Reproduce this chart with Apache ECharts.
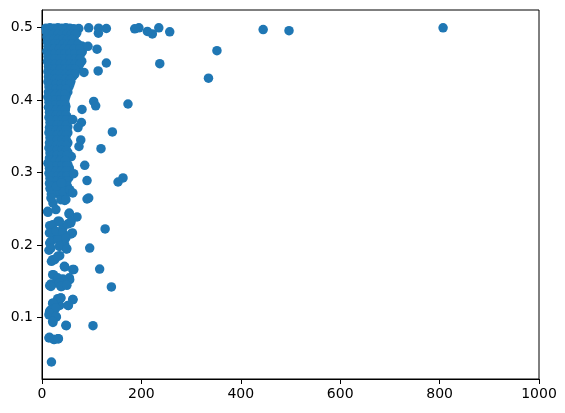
<!DOCTYPE html>
<html><head><meta charset="utf-8">
<script src="https://cdn.jsdelivr.net/npm/echarts@6/dist/echarts.min.js"></script>
<style>html,body{margin:0;padding:0;background:#fff}#c{width:565px;height:413px}</style>
</head><body><div id="c"></div>
<script>
const xTicks = [0, 200, 400, 600, 800, 1000];
const yTicks = [0.1, 0.2, 0.3, 0.4, 0.5];

const densePoints = [
[8,0.499],[16,0.4995],[24,0.499],[32,0.4995],[40,0.499],[48,0.4995],[56,0.499],[64,0.498],[74,0.4985],
[9,0.494],[18,0.493],[27,0.494],[36,0.4935],[45,0.494],[54,0.493],[63,0.494],[70,0.4925],
[10,0.487],[19,0.488],[28,0.487],[37,0.4865],[46,0.487],[55,0.488],[64,0.486],
[11,0.48],[20,0.481],[29,0.48],[38,0.4795],[47,0.481],[56,0.48],[66,0.4805],
[12,0.474],[21,0.473],[30,0.4745],[40,0.474],[50,0.473],[60,0.474],[70,0.4735],[80,0.4745],
[10,0.467],[20,0.4665],[30,0.467],[40,0.468],[50,0.467],[60,0.466],[72,0.467],[81,0.4665],
[12,0.46],[22,0.4605],[32,0.46],[42,0.459],[52,0.4605],[62,0.46],[74,0.4595],
[11,0.453],[21,0.4525],[31,0.453],[41,0.454],[51,0.453],[61,0.4525],[70,0.453],[80,0.4535],
[13,0.446],[23,0.4465],[33,0.446],[43,0.4455],[53,0.446],[63,0.4465],[72,0.446],
[12,0.439],[22,0.4385],[32,0.439],[42,0.44],[52,0.439],[62,0.4385],[68,0.44],
[13,0.432],[23,0.4325],[33,0.432],[43,0.4315],[53,0.432],[62,0.4325],
[12,0.425],[22,0.4255],[32,0.425],[42,0.4245],[52,0.425],[58,0.4255],
[14,0.418],[24,0.4185],[34,0.418],[44,0.4175],[54,0.418],
[13,0.411],[23,0.4105],[33,0.411],[43,0.4115],[52,0.411],
[12,0.404],[22,0.4045],[32,0.404],[42,0.4035],[48,0.405],
[14,0.397],[24,0.3975],[34,0.397],[44,0.3965],
[13,0.39],[23,0.3905],[33,0.39],[43,0.3895],[48,0.391],
[15,0.383],[25,0.3835],[35,0.383],[45,0.3825],
[14,0.376],[24,0.3765],[34,0.376],[44,0.3755],[50,0.377],
[16,0.369],[26,0.3695],[36,0.369],[46,0.3685],
[15,0.362],[25,0.3625],[35,0.362],[45,0.3615],[52,0.363],
[14,0.355],[24,0.3555],[34,0.355],[44,0.3545],[52,0.355],
[16,0.348],[26,0.3485],[36,0.348],[46,0.3475],
[15,0.341],[25,0.3415],[35,0.341],[45,0.3405],[52,0.341],
[14,0.334],[24,0.3345],[34,0.334],[44,0.3335],
[16,0.327],[26,0.3275],[36,0.327],[46,0.3265],[52,0.328],
[15,0.32],[25,0.3205],[35,0.32],[45,0.3195],[59,0.322],
[12,0.313],[22,0.3135],[32,0.313],[42,0.3125],[52,0.311],
[15,0.306],[25,0.3065],[35,0.306],[45,0.3055],[55,0.306],
[14,0.299],[24,0.2995],[34,0.299],[44,0.2985],
[16,0.292],[26,0.2925],[36,0.292],[46,0.2915],[54,0.293],
[15,0.285],[25,0.2855],[35,0.285],[45,0.2845],
[16,0.278],[26,0.2785],[36,0.278],[46,0.2775],
[19,0.271],[29,0.2715],[39,0.271],[48,0.2705]
];

const denseFillPoints = [
[13,0.4965],[22,0.4965],[31,0.4965],[40,0.4965],[49,0.4965],[58,0.4965],[67,0.4965],
[14,0.4905],[23,0.4905],[32,0.4905],[41,0.4905],[50,0.4905],[59,0.4905],[67,0.4905],
[15,0.4835],[24,0.4835],[33,0.4835],[42,0.4835],[51,0.4835],[60,0.4835],
[16,0.477],[25,0.477],[34,0.477],[43,0.477],[52,0.477],[61,0.477],[72,0.477],
[15,0.4705],[25,0.4705],[35,0.4705],[45,0.4705],[55,0.4705],[65,0.4705],[76,0.4705],
[16,0.4635],[26,0.4635],[36,0.4635],[46,0.4635],[56,0.4635],[66,0.4635],[78,0.4635],
[16,0.4565],[26,0.4565],[36,0.4565],[46,0.4565],[56,0.4565],[66,0.4565],[76,0.4565],
[17,0.4495],[27,0.4495],[37,0.4495],[47,0.4495],[57,0.4495],[67,0.4495],[76,0.4495],
[17,0.4425],[27,0.4425],[37,0.4425],[47,0.4425],[57,0.4425],[66,0.4425],
[17,0.4355],[27,0.4355],[37,0.4355],[47,0.4355],[57,0.4355],[66,0.4355],
[17,0.4285],[27,0.4285],[37,0.4285],[47,0.4285],[57,0.4285],
[18,0.4215],[28,0.4215],[38,0.4215],[48,0.4215],[56,0.4215],
[18,0.4145],[28,0.4145],[38,0.4145],[48,0.4145],
[17,0.4075],[27,0.4075],[37,0.4075],[46,0.4075],
[18,0.4005],[28,0.4005],[38,0.4005],[46,0.4005],
[18,0.3935],[28,0.3935],[38,0.3935],[47,0.3935],
[19,0.3865],[29,0.3865],[39,0.3865],[47,0.3865],
[19,0.3795],[29,0.3795],[39,0.3795],[48,0.3795],
[20,0.3725],[30,0.3725],[40,0.3725],[49,0.3725],
[20,0.3655],[30,0.3655],[40,0.3655],[49,0.3655],
[19,0.3585],[29,0.3585],[39,0.3585],[48,0.3585],
[20,0.3515],[30,0.3515],[40,0.3515],[49,0.3515],
[20,0.3445],[30,0.3445],[40,0.3445],[49,0.3445],
[19,0.3375],[29,0.3375],[39,0.3375],[49,0.3375],
[20,0.3305],[30,0.3305],[40,0.3305],[49,0.3305],
[20,0.3235],[30,0.3235],[40,0.3235],[50,0.3235],
[17,0.3165],[27,0.3165],[37,0.3165],[47,0.3165],
[20,0.3095],[30,0.3095],[40,0.3095],[50,0.3095],
[19,0.3025],[29,0.3025],[39,0.3025],[49,0.3025],
[20,0.2955],[30,0.2955],[40,0.2955],[50,0.2955],
[20,0.2885],[30,0.2885],[40,0.2885],[50,0.2885],
[21,0.2815],[31,0.2815],[41,0.2815],[51,0.2815],
[22,0.2745],[32,0.2745],[42,0.2745]
];

const lowPoints = [
[62.4,0.125],[52.4,0.117],[64,0.1663],[45.7,0.170],[55.7,0.1525],[70.4,0.2389],[54.3,0.243],[49,0.1948],
[61.2,0.2168],[57.8,0.2306],[45.7,0.2617],[55.7,0.2765],[62,0.272],
[14,0.0722],[23.5,0.070],[32.2,0.071],[22,0.0936],[29,0.101],[15.5,0.109],[14,0.104],[22,0.120],
[32.2,0.125],[37.6,0.1273],[25.5,0.116],[35.6,0.117],
[15.5,0.1442],[23.5,0.159],[32,0.1525],[39,0.143],[27.5,0.148],[42,0.1534],
[19,0.1777],[25.5,0.180],[35.6,0.1855],
[14,0.193],[15.5,0.203],[19,0.2168],[15.5,0.2268],[29,0.212],[39,0.2076],[42,0.2237],[45.7,0.2007],
[32,0.2328],[12,0.2452],[22,0.2581],[19,0.2696],[29,0.281],[39,0.2857],
[18,0.265],[38,0.2627],[48,0.2627],[11.5,0.2466],[28,0.249],[55,0.2443],[21.5,0.228],[35,0.2328],
[51.7,0.229],[58.4,0.2328],[15,0.2168],[28,0.219],[41.6,0.2168],[58.4,0.2154],[18,0.2053],[31.6,0.2076],
[48,0.2099],[18,0.196],[35,0.1983],[50,0.195],[21.5,0.18],[31.6,0.1846],[61.8,0.1663],[45,0.1708],
[21.5,0.1594],[31.6,0.155],[55,0.155],[45,0.150],[18,0.1466],[35,0.148],
[18,0.1432],[38,0.1432],[50,0.1446],[31.6,0.1263],[38,0.1273],[61.8,0.125],[53,0.117],[21.5,0.120],
[18,0.111],[28,0.1135],[15,0.1066],[28,0.102],[21.5,0.095],[48,0.0895],[15,0.073],[25,0.070],[33,0.0712],
[19,0.039]
];

const sparsePoints = [
[807,0.4995],[497,0.4955],[445,0.497],[257,0.494],[235,0.4995],[222,0.491],[212,0.4945],[195,0.4995],
[186.5,0.498],[352,0.468],[237,0.45],[335,0.43],[173,0.3945],[163,0.2926],[153,0.287],
[129.5,0.4985],[114,0.499],[94,0.4995],[113.5,0.492],[92.5,0.474],[110.7,0.470],[129.5,0.451],
[113,0.440],[84.5,0.438],[104,0.398],[108,0.392],[80.5,0.387],[61.8,0.373],[79.3,0.369],[72.4,0.362],
[141.6,0.356],[78,0.345],[74.4,0.336],[118.7,0.333],[86,0.310],[63.8,0.2985],[90.6,0.289],[90.6,0.2636],
[94,0.265],[127,0.2223],[96,0.196],[116,0.167],[139.6,0.1424],[102.6,0.089],[49,0.089]
];

const allPoints = densePoints.concat(denseFillPoints, lowPoints, sparsePoints);

const font = 'DejaVu Sans';
const chart = echarts.init(document.getElementById('c'), null, {renderer: 'canvas'});
chart.setOption({
  animation: false,
  grid: {left: 42, right: 26, top: 10, bottom: 34, show: true, borderColor: '#000', borderWidth: 1, containLabel: false},
  xAxis: {
    type: 'value', min: 0, max: 1000, interval: 200,
    axisLine: {show: true, onZero: false, lineStyle: {color: '#000', width: 1}},
    axisTick: {show: true, inside: false, length: 5, lineStyle: {color: '#000'}},
    axisLabel: {color: '#000', fontSize: 14, fontFamily: font, margin: 8, formatter: v => String(v)},
    splitLine: {show: false}
  },
  yAxis: {
    type: 'value', min: 0.0156, max: 0.524,
    axisLine: {show: true, onZero: false, lineStyle: {color: '#000', width: 1}},
    axisTick: {show: true, inside: false, length: 5, lineStyle: {color: '#000'}, customValues: yTicks},
    axisLabel: {color: '#000', fontSize: 14, fontFamily: font, margin: 9, customValues: yTicks,
      formatter: v => Number(v).toFixed(1)},
    splitLine: {show: false}
  },
  series: [{
    type: 'scatter',
    data: allPoints,
    symbol: 'circle',
    symbolSize: 9.5,
    itemStyle: {color: '#1f77b4', opacity: 1},
    emphasis: {disabled: true}
  }]
});
</script></body></html>
